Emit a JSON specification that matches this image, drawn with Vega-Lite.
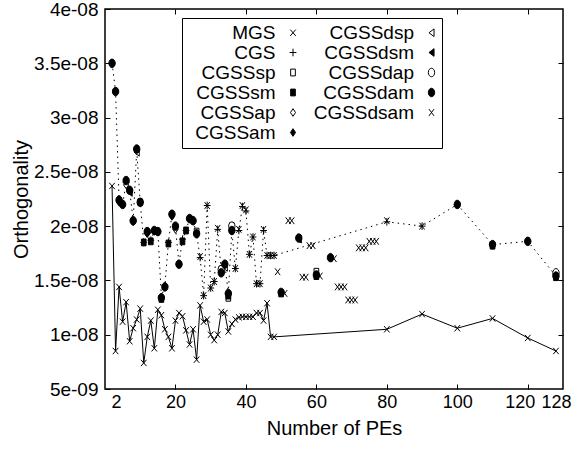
{
  "$schema": "https://vega.github.io/schema/vega-lite/v6.json",
  "width": 458,
  "height": 380,
  "autosize": {"type": "none"},
  "padding": {"left": 105, "top": 9, "right": 10, "bottom": 66},
  "background": "white",
  "config": {
    "font": "Liberation Sans",
    "view": {"stroke": "black", "strokeWidth": 1.5},
    "axis": {"grid": false, "domain": false, "tickColor": "black", "tickSize": -5, "tickWidth": 1,
      "labelColor": "black", "titleColor": "black", "labelFont": "Liberation Sans", "titleFont": "Liberation Sans",
      "labelFontSize": 19, "titleFontSize": 20, "titleFontWeight": "normal",
      "labelOverlap": false, "labelFlush": false, "labelBound": false},
    "axisX": {"labelPadding": 9, "titlePadding": 7, "labelFontSize": 18},
    "axisY": {"labelPadding": 12, "titlePadding": 2},
    "legend": {"title": null, "orient": "none", "legendX": 77, "legendY": 9, "columns": 2,
      "strokeColor": "black", "fillColor": "white", "padding": 5, "cornerRadius": 0,
      "labelFont": "Liberation Sans", "labelFontSize": 19, "labelColor": "black",
      "labelAlign": "right", "labelOffset": -27, "symbolOffset": 96.5, "rowPadding": 0, "columnPadding": 14.5,
      "symbolStrokeColor": "black", "symbolStrokeWidth": 1, "symbolSize": 72}
  },
  "data": {"values": [
    {"s":"MGS","x":2,"y":2.37e-8},{"s":"MGS","x":3,"y":0.85e-8},{"s":"MGS","x":4,"y":1.44e-8},{"s":"MGS","x":5,"y":1.12e-8},
    {"s":"MGS","x":6,"y":1.30e-8},{"s":"MGS","x":7,"y":0.94e-8},{"s":"MGS","x":8,"y":1.06e-8},{"s":"MGS","x":9,"y":1.14e-8},
    {"s":"MGS","x":10,"y":1.24e-8},{"s":"MGS","x":11,"y":0.74e-8},{"s":"MGS","x":12,"y":0.98e-8},{"s":"MGS","x":13,"y":1.13e-8},
    {"s":"MGS","x":14,"y":0.875e-8},{"s":"MGS","x":15,"y":1.23e-8},{"s":"MGS","x":16,"y":1.18e-8},{"s":"MGS","x":17,"y":1.05e-8},
    {"s":"MGS","x":18,"y":0.98e-8},{"s":"MGS","x":19,"y":0.875e-8},{"s":"MGS","x":20,"y":1.13e-8},{"s":"MGS","x":21,"y":1.20e-8},
    {"s":"MGS","x":22,"y":1.17e-8},{"s":"MGS","x":23,"y":1.04e-8},{"s":"MGS","x":24,"y":0.91e-8},{"s":"MGS","x":25,"y":1.05e-8},
    {"s":"MGS","x":26,"y":0.77e-8},{"s":"MGS","x":27,"y":1.27e-8},{"s":"MGS","x":28,"y":1.12e-8},{"s":"MGS","x":29,"y":1.14e-8},
    {"s":"MGS","x":30,"y":1.00e-8},{"s":"MGS","x":31,"y":0.95e-8},{"s":"MGS","x":32,"y":1.00e-8},{"s":"MGS","x":33,"y":1.21e-8},
    {"s":"MGS","x":34,"y":1.20e-8},{"s":"MGS","x":35,"y":1.03e-8},{"s":"MGS","x":36,"y":1.10e-8},{"s":"MGS","x":37,"y":1.14e-8},
    {"s":"MGS","x":38,"y":1.16e-8},{"s":"MGS","x":39,"y":1.165e-8},{"s":"MGS","x":40,"y":1.165e-8},{"s":"MGS","x":41,"y":1.165e-8},
    {"s":"MGS","x":42,"y":1.165e-8},{"s":"MGS","x":43,"y":1.20e-8},{"s":"MGS","x":44,"y":1.20e-8},{"s":"MGS","x":45,"y":1.13e-8},
    {"s":"MGS","x":46,"y":1.29e-8},{"s":"MGS","x":47,"y":0.98e-8},{"s":"MGS","x":48,"y":0.98e-8},{"s":"MGS","x":80,"y":1.05e-8},
    {"s":"MGS","x":90,"y":1.19e-8},{"s":"MGS","x":100,"y":1.06e-8},{"s":"MGS","x":110,"y":1.15e-8},{"s":"MGS","x":120,"y":0.97e-8},
    {"s":"MGS","x":128,"y":0.85e-8},

    {"s":"CGS","x":2,"y":3.50e-8},{"s":"CGS","x":3,"y":3.24e-8},{"s":"CGS","x":4,"y":2.24e-8},{"s":"CGS","x":5,"y":2.20e-8},
    {"s":"CGS","x":6,"y":2.40e-8},{"s":"CGS","x":7,"y":2.33e-8},{"s":"CGS","x":8,"y":2.05e-8},{"s":"CGS","x":9,"y":2.70e-8},
    {"s":"CGS","x":10,"y":2.22e-8},{"s":"CGS","x":11,"y":1.85e-8},{"s":"CGS","x":12,"y":1.94e-8},{"s":"CGS","x":13,"y":1.87e-8},
    {"s":"CGS","x":14,"y":1.95e-8},{"s":"CGS","x":15,"y":1.95e-8},{"s":"CGS","x":16,"y":1.35e-8},{"s":"CGS","x":17,"y":1.45e-8},
    {"s":"CGS","x":18,"y":1.85e-8},{"s":"CGS","x":19,"y":2.11e-8},{"s":"CGS","x":20,"y":1.99e-8},{"s":"CGS","x":21,"y":1.65e-8},
    {"s":"CGS","x":22,"y":1.88e-8},{"s":"CGS","x":23,"y":1.96e-8},{"s":"CGS","x":24,"y":2.07e-8},{"s":"CGS","x":25,"y":2.05e-8},
    {"s":"CGS","x":26,"y":1.93e-8},{"s":"CGS","x":27,"y":1.71e-8},{"s":"CGS","x":28,"y":1.36e-8},{"s":"CGS","x":29,"y":2.19e-8},
    {"s":"CGS","x":30,"y":1.43e-8},{"s":"CGS","x":31,"y":1.49e-8},{"s":"CGS","x":32,"y":1.97e-8},{"s":"CGS","x":33,"y":1.57e-8},
    {"s":"CGS","x":34,"y":1.65e-8},{"s":"CGS","x":35,"y":1.38e-8},{"s":"CGS","x":36,"y":1.96e-8},{"s":"CGS","x":37,"y":1.61e-8},
    {"s":"CGS","x":38,"y":1.96e-8},{"s":"CGS","x":39,"y":2.18e-8},{"s":"CGS","x":40,"y":2.14e-8},{"s":"CGS","x":41,"y":1.74e-8},
    {"s":"CGS","x":42,"y":1.90e-8},{"s":"CGS","x":43,"y":1.47e-8},{"s":"CGS","x":44,"y":1.47e-8},{"s":"CGS","x":45,"y":1.96e-8},
    {"s":"CGS","x":46,"y":1.73e-8},{"s":"CGS","x":47,"y":1.73e-8},{"s":"CGS","x":48,"y":1.73e-8},{"s":"CGS","x":80,"y":2.04e-8},
    {"s":"CGS","x":90,"y":2.00e-8},{"s":"CGS","x":100,"y":2.20e-8},{"s":"CGS","x":110,"y":1.83e-8},{"s":"CGS","x":120,"y":1.86e-8},
    {"s":"CGS","x":128,"y":1.54e-8},

    {"s":"CGSSsp","x":10,"y":2.22e-8},{"s":"CGSSsp","x":26,"y":1.95e-8},{"s":"CGSSsp","x":33,"y":1.60e-8},{"s":"CGSSsp","x":35,"y":1.34e-8},
    {"s":"CGSSsp","x":36,"y":2.00e-8},{"s":"CGSSsp","x":60,"y":1.58e-8},{"s":"CGSSsp","x":128,"y":1.56e-8},

    {"s":"CGSSsm","x":11,"y":1.85e-8},{"s":"CGSSsm","x":13,"y":1.86e-8},{"s":"CGSSsm","x":16,"y":1.33e-8},{"s":"CGSSsm","x":18,"y":1.84e-8},
    {"s":"CGSSsm","x":22,"y":1.86e-8},{"s":"CGSSsm","x":23,"y":1.96e-8},{"s":"CGSSsm","x":35,"y":1.36e-8},{"s":"CGSSsm","x":50,"y":1.38e-8},
    {"s":"CGSSsm","x":60,"y":1.54e-8},{"s":"CGSSsm","x":110,"y":1.82e-8},{"s":"CGSSsm","x":128,"y":1.53e-8},

    {"s":"CGSSap","x":6,"y":2.38e-8},{"s":"CGSSap","x":20,"y":1.97e-8},

    {"s":"CGSSam","x":4,"y":2.22e-8},{"s":"CGSSam","x":8,"y":2.04e-8},{"s":"CGSSam","x":12,"y":1.93e-8},{"s":"CGSSam","x":19,"y":2.09e-8},

    {"s":"CGSSdsp","x":9,"y":2.68e-8},{"s":"CGSSdsp","x":34,"y":1.62e-8},

    {"s":"CGSSdsm","x":7,"y":2.31e-8},{"s":"CGSSdsm","x":24,"y":2.06e-8},{"s":"CGSSdsm","x":55,"y":1.88e-8},

    {"s":"CGSSdap","x":33,"y":1.60e-8},{"s":"CGSSdap","x":36,"y":2.00e-8},{"s":"CGSSdap","x":128,"y":1.57e-8},

    {"s":"CGSSdam","x":2,"y":3.50e-8},{"s":"CGSSdam","x":3,"y":3.24e-8},{"s":"CGSSdam","x":4,"y":2.24e-8},{"s":"CGSSdam","x":5,"y":2.20e-8},
    {"s":"CGSSdam","x":6,"y":2.42e-8},{"s":"CGSSdam","x":7,"y":2.33e-8},{"s":"CGSSdam","x":8,"y":2.05e-8},{"s":"CGSSdam","x":9,"y":2.71e-8},
    {"s":"CGSSdam","x":10,"y":2.22e-8},{"s":"CGSSdam","x":12,"y":1.95e-8},{"s":"CGSSdam","x":14,"y":1.96e-8},{"s":"CGSSdam","x":15,"y":1.95e-8},
    {"s":"CGSSdam","x":16,"y":1.34e-8},{"s":"CGSSdam","x":17,"y":1.44e-8},{"s":"CGSSdam","x":19,"y":2.11e-8},{"s":"CGSSdam","x":20,"y":2.00e-8},
    {"s":"CGSSdam","x":21,"y":1.65e-8},{"s":"CGSSdam","x":24,"y":2.07e-8},{"s":"CGSSdam","x":25,"y":2.05e-8},{"s":"CGSSdam","x":26,"y":1.93e-8},
    {"s":"CGSSdam","x":33,"y":1.57e-8},{"s":"CGSSdam","x":34,"y":1.65e-8},{"s":"CGSSdam","x":35,"y":1.38e-8},{"s":"CGSSdam","x":36,"y":1.96e-8},
    {"s":"CGSSdam","x":50,"y":1.39e-8},{"s":"CGSSdam","x":55,"y":1.89e-8},{"s":"CGSSdam","x":60,"y":1.55e-8},{"s":"CGSSdam","x":64,"y":1.71e-8},
    {"s":"CGSSdam","x":100,"y":2.20e-8},{"s":"CGSSdam","x":110,"y":1.83e-8},{"s":"CGSSdam","x":120,"y":1.86e-8},{"s":"CGSSdam","x":128,"y":1.54e-8},

    {"s":"CGSSdsam","x":27,"y":1.72e-8},{"s":"CGSSdsam","x":28,"y":1.36e-8},{"s":"CGSSdsam","x":29,"y":2.19e-8},{"s":"CGSSdsam","x":30,"y":1.43e-8},
    {"s":"CGSSdsam","x":31,"y":1.49e-8},{"s":"CGSSdsam","x":32,"y":1.98e-8},{"s":"CGSSdsam","x":37,"y":1.61e-8},{"s":"CGSSdsam","x":38,"y":1.97e-8},
    {"s":"CGSSdsam","x":39,"y":2.19e-8},{"s":"CGSSdsam","x":40,"y":2.15e-8},{"s":"CGSSdsam","x":41,"y":1.74e-8},{"s":"CGSSdsam","x":42,"y":1.90e-8},
    {"s":"CGSSdsam","x":43,"y":1.47e-8},{"s":"CGSSdsam","x":44,"y":1.47e-8},{"s":"CGSSdsam","x":45,"y":1.97e-8},{"s":"CGSSdsam","x":46,"y":1.73e-8},
    {"s":"CGSSdsam","x":47,"y":1.73e-8},{"s":"CGSSdsam","x":48,"y":1.73e-8},{"s":"CGSSdsam","x":49,"y":1.58e-8},{"s":"CGSSdsam","x":51,"y":1.38e-8},
    {"s":"CGSSdsam","x":52,"y":2.05e-8},{"s":"CGSSdsam","x":53,"y":2.05e-8},{"s":"CGSSdsam","x":56,"y":1.53e-8},{"s":"CGSSdsam","x":57,"y":1.53e-8},
    {"s":"CGSSdsam","x":58,"y":1.82e-8},{"s":"CGSSdsam","x":59,"y":1.82e-8},{"s":"CGSSdsam","x":61,"y":1.54e-8},{"s":"CGSSdsam","x":65,"y":1.70e-8},
    {"s":"CGSSdsam","x":66,"y":1.44e-8},{"s":"CGSSdsam","x":67,"y":1.44e-8},{"s":"CGSSdsam","x":68,"y":1.44e-8},{"s":"CGSSdsam","x":69,"y":1.32e-8},
    {"s":"CGSSdsam","x":70,"y":1.32e-8},{"s":"CGSSdsam","x":71,"y":1.32e-8},{"s":"CGSSdsam","x":72,"y":1.80e-8},{"s":"CGSSdsam","x":73,"y":1.80e-8},
    {"s":"CGSSdsam","x":74,"y":1.80e-8},{"s":"CGSSdsam","x":75,"y":1.86e-8},{"s":"CGSSdsam","x":76,"y":1.86e-8},{"s":"CGSSdsam","x":77,"y":1.86e-8},
    {"s":"CGSSdsam","x":80,"y":2.05e-8},{"s":"CGSSdsam","x":90,"y":2.00e-8}
  ]},
  "layer": [
    {
      "transform": [{"filter": "datum.s === 'MGS'"}],
      "mark": {"type": "line", "color": "black", "strokeWidth": 1},
      "encoding": {
        "x": {"field": "x", "type": "quantitative", "scale": {"domain": [0, 130], "nice": false, "zero": false},
          "axis": {"values": [2, 20, 40, 60, 80, 100, 120, 128], "title": "Number of PEs",
            "labelOffset": {"condition": [{"test": "datum.value == 120", "value": -8}, {"test": "datum.value == 2", "value": 4}], "value": 0},
            "tickOpacity": {"condition": {"test": "datum.value == 2 || datum.value == 128", "value": 0}, "value": 1}}},
        "y": {"field": "y", "type": "quantitative", "scale": {"domain": [5e-9, 4e-8], "nice": false, "zero": false},
          "axis": {"values": [5e-9, 1e-8, 1.5e-8, 2e-8, 2.5e-8, 3e-8, 3.5e-8, 4e-8], "title": "Orthogonality",
            "labelExpr": "datum.value < 9.9e-9 ? format(datum.value * 1e9, '.2~f') + 'e-09' : format(datum.value * 1e8, '.2~f') + 'e-08'"}}
      }
    },
    {
      "transform": [{"filter": "datum.s === 'CGS'"}],
      "mark": {"type": "line", "color": "black", "strokeWidth": 1, "strokeDash": [1.5, 4]},
      "encoding": {
        "x": {"field": "x", "type": "quantitative",
          "axis": {"orient": "top", "values": [20, 40, 60, 80, 100, 120], "labels": false, "title": null}},
        "y": {"field": "y", "type": "quantitative",
          "axis": {"orient": "right", "values": [1e-8, 1.5e-8, 2e-8, 2.5e-8, 3e-8, 3.5e-8], "labels": false, "title": null}}
      }
    },
    {
      "mark": {"type": "point", "size": 72, "strokeWidth": 1, "opacity": 1, "filled": true},
      "encoding": {
        "x": {"field": "x", "type": "quantitative", "axis": null},
        "y": {"field": "y", "type": "quantitative", "axis": null},
        "shape": {"field": "s", "type": "nominal",
          "scale": {
            "domain": ["MGS", "CGS", "CGSSsp", "CGSSsm", "CGSSap", "CGSSam", "CGSSdsp", "CGSSdsm", "CGSSdap", "CGSSdam", "CGSSdsam"],
            "range": [
              "M-0.65,-0.75L0.65,0.75M0.65,-0.75L-0.65,0.75",
              "M0,-0.9V0.9M-0.8,0H0.8",
              "M-0.55,-0.8H0.55V0.8H-0.55Z",
              "M-0.55,-0.8H0.55V0.8H-0.55Z",
              "M0,-0.9L0.6,0L0,0.9L-0.6,0Z",
              "M0,-0.9L0.6,0L0,0.9L-0.6,0Z",
              "M-0.6,0L0.6,-0.9V0.9Z",
              "M-0.6,0L0.6,-0.9V0.9Z",
              "M0,-1A0.75,1,0,1,1,0,1A0.75,1,0,1,1,0,-1Z",
              "M0,-1A0.75,1,0,1,1,0,1A0.75,1,0,1,1,0,-1Z",
              "M-0.6,-0.8L0.6,0.8M0.6,-0.8L-0.6,0.8"
            ]}},
        "fill": {"field": "s", "type": "nominal",
          "scale": {
            "domain": ["MGS", "CGS", "CGSSsp", "CGSSsm", "CGSSap", "CGSSam", "CGSSdsp", "CGSSdsm", "CGSSdap", "CGSSdam", "CGSSdsam"],
            "range": ["black", "black", "white", "black", "white", "black", "white", "black", "white", "black", "black"]}},
        "stroke": {"field": "s", "type": "nominal",
          "scale": {
            "domain": ["MGS", "CGS", "CGSSsp", "CGSSsm", "CGSSap", "CGSSam", "CGSSdsp", "CGSSdsm", "CGSSdap", "CGSSdam", "CGSSdsam"],
            "range": ["black", "black", "black", "black", "black", "black", "black", "black", "black", "black", "black"]}}
      }
    }
  ],
  "resolve": {"axis": {"x": "independent", "y": "independent"}}
}
